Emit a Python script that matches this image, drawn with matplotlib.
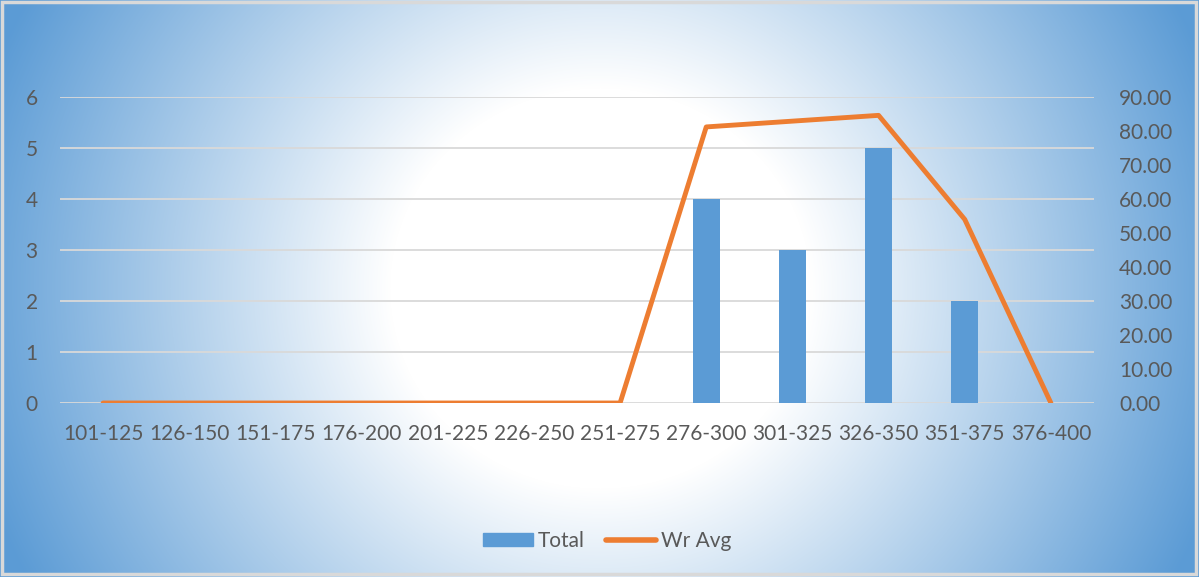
import numpy as np
import matplotlib
matplotlib.use("Agg")
import matplotlib.pyplot as plt
from matplotlib.patches import Rectangle
from matplotlib.lines import Line2D

categories = ["101-125", "126-150", "151-175", "176-200", "201-225", "226-250",
              "251-275", "276-300", "301-325", "326-350", "351-375", "376-400"]
total = [0, 0, 0, 0, 0, 0, 0, 4, 3, 5, 2, 0]
wr_avg = [0, 0, 0, 0, 0, 0, 0, 81.2, 82.9, 84.6, 54.0, 0]

W, H = 1199, 577
fig = plt.figure(figsize=(W / 100, H / 100), dpi=100)

# radial gradient background
bg = fig.add_axes([0, 0, 1, 1])
yy, xx = np.mgrid[0:H, 0:W]
r = np.sqrt((xx - 600) ** 2 + ((yy - 288) * 1.05) ** 2)
t = np.clip((r - 210) / (650 - 210), 0, 1)[..., None]
blue = np.array([91, 155, 213]) / 255.0
white = np.array([1.0, 1.0, 1.0])
img = white * (1 - t) + blue * t
bg.imshow(img, extent=[0, W, H, 0], aspect="auto", interpolation="bilinear")
bg.set_xlim(0, W)
bg.set_ylim(H, 0)
bg.axis("off")
bg.add_patch(Rectangle((2, 2), W - 5, H - 5, fill=False, edgecolor="#d9d9d9", lw=2.5))

ax = fig.add_axes([60 / W, 1 - 403 / H, (1094 - 60) / W, (403 - 97) / H])
ax.patch.set_alpha(0)
x = np.arange(len(categories))
ax.bar(x, total, width=0.31, color="#5b9bd5", zorder=3)
ax.set_ylim(0, 6)
ax.set_xlim(-0.5, len(categories) - 0.5)
ax.set_yticks(range(0, 7))
ax.grid(axis="y", color="#d9d9d9", lw=1.3, zorder=0)
for s in ax.spines.values():
    s.set_visible(False)
ax.tick_params(length=0, labelsize=15, colors="#595959")
ax.tick_params(axis="x", pad=15)
ax.tick_params(axis="y", pad=16)
ax.set_xticks(x)
ax.set_xticklabels(categories)

ax2 = ax.twinx()
ax2.patch.set_alpha(0)
ax2.plot(x, wr_avg, color="#ed7d31", lw=3.5, solid_capstyle="round", zorder=4)
ax2.set_ylim(0, 90)
ax2.set_yticks(np.arange(0, 91, 10))
ax2.set_yticklabels([f"{v:.2f}" for v in np.arange(0, 91, 10)])
for s in ax2.spines.values():
    s.set_visible(False)
ax2.tick_params(axis="y", length=0, labelsize=15, colors="#595959", pad=18)

for lab in ax.get_xticklabels() + ax.get_yticklabels() + ax2.get_yticklabels():
    lab.set_fontfamily("Lato")

handles = [Rectangle((0, 0), 1, 1, color="#5b9bd5"),
           Line2D([0], [0], color="#ed7d31", lw=4, solid_capstyle="round")]
fig.legend(handles, ["Total", "Wr Avg"], loc="center", bbox_to_anchor=(607 / W, 1 - 541 / H),
           ncol=2, frameon=False, prop={"family": "Lato", "size": 15},
           labelcolor="#595959", handlelength=2.4, handleheight=0.6,
           handletextpad=0.25, columnspacing=1.0)

fig.savefig("out.png", dpi=100)
